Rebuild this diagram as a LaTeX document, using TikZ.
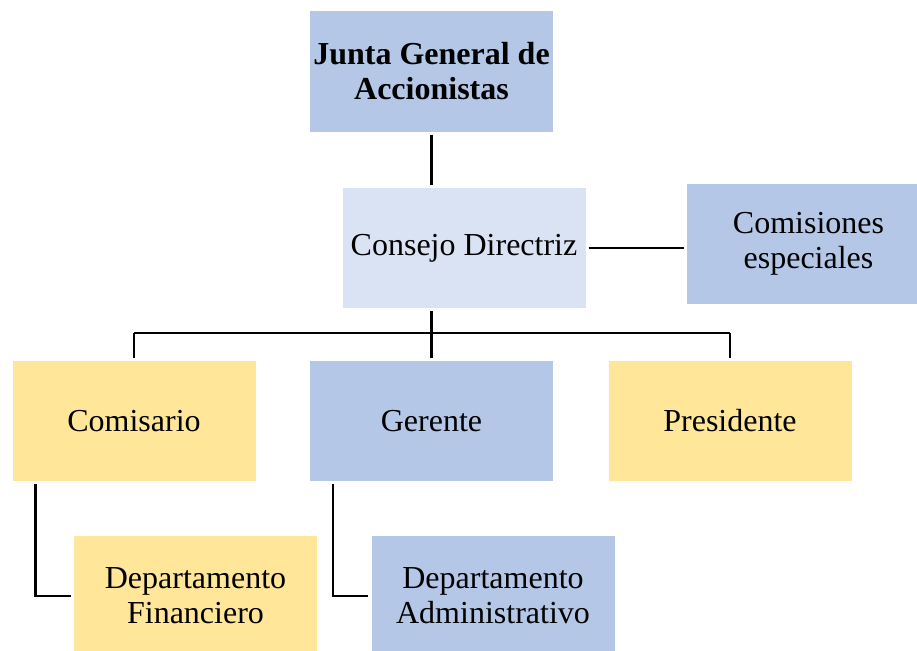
\documentclass[tikz,border=0pt]{standalone}
\usepackage{fontspec}
\setmainfont{Liberation Serif}
\usepackage{xcolor}
\usetikzlibrary{positioning,calc}
\definecolor{boxblue}{HTML}{B4C7E7}
\definecolor{boxlight}{HTML}{DAE3F3}
\definecolor{boxyellow}{HTML}{FFE699}
\tikzset{%
	unit/.style     = {rectangle, minimum width = 243pt, minimum height = 120pt, align=center, inner sep=0pt, font=\fontsize{32}{35}\selectfont}, % Box
	blueunit/.style = {unit, fill=boxblue},
	lightunit/.style= {unit, fill=boxlight},
	yellowunit/.style={unit, fill=boxyellow},
	link/.style     = {line width=2.6pt, shorten <=3pt, shorten >=3pt},
}
\begin{document}
\begin{tikzpicture}[x=1pt,y=1pt]
	\useasboundingbox (0,0) rectangle (917,-650);
	\node[blueunit] (junta) at (431.5,-71.5) {\textbf{Junta General de}\\\textbf{Accionistas}};
	\node[lightunit] (consejo) at (464,-248) {Consejo Directriz};
	\node[blueunit] (comisiones) at (808.5,-244) {Comisiones\\especiales};
	\node[yellowunit] (comisario) at (134,-421) {Comisario};
	\node[blueunit] (gerente) at (431.5,-421) {Gerente};
	\node[yellowunit] (presidente) at (730,-421) {Presidente};
	\node[yellowunit] (depfin) at (195.5,-596) {Departamento\\Financiero};
	\node[blueunit] (depadm) at (493,-596) {Departamento\\Administrativo};
	\coordinate (bar) at (431.5,-333);
	\draw[link] (junta.south) -- (junta.south |- consejo.north);
	\draw[link] (consejo.east) -- (comisiones.west |- consejo.east);
	\draw[link,shorten >=0pt] (junta.south |- consejo.south) -- (bar);
	\draw[link,shorten <=0pt] (bar -| comisario.north) -- (comisario.north);
	\draw[link,shorten <=0pt] (bar -| presidente.north) -- (presidente.north);
	\draw[link,shorten <=0pt] (bar) -- (gerente.north);
	\draw[line width=2.6pt] (bar -| comisario.north) -- (bar -| presidente.north);
	\draw[link] ($(comisario.south west)+(23,0)$) |- (depfin.west);
	\draw[link] ($(gerente.south west)+(23,0)$) |- (depadm.west);
\end{tikzpicture}
\end{document}
